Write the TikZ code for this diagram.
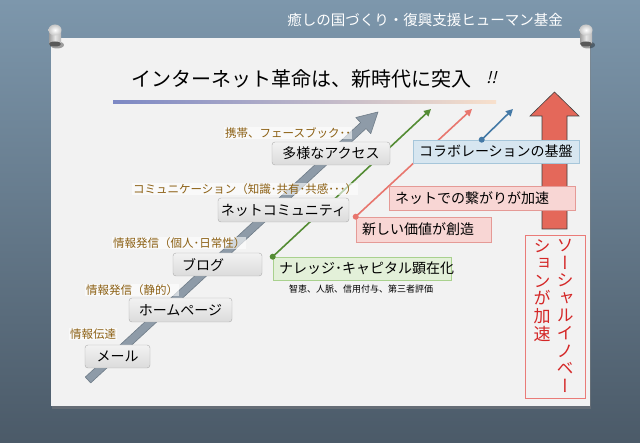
\documentclass[tikz,border=0pt]{standalone}
\usepackage{fontspec}
\setmainfont{Noto Sans CJK JP}
\newfontfamily\vfont[RawFeature=+vert]{Noto Sans CJK JP}
\newfontfamily\slfont[FakeSlant=0.25]{Noto Sans CJK JP}
\usetikzlibrary{calc,arrows.meta,shadows}
\definecolor{bgtop}{HTML}{7D97AC}
\definecolor{bgbot}{HTML}{4B5A68}
\definecolor{paperc}{HTML}{F2F2F2}
\definecolor{lblc}{HTML}{8C6014}
\definecolor{grnc}{HTML}{548C34}
\definecolor{rdc}{HTML}{E8766E}
\definecolor{blc}{HTML}{4479A6}
\definecolor{bigred}{HTML}{E4685A}
\definecolor{vred}{HTML}{D42626}
\definecolor{agray}{HTML}{8E9BA8}
\definecolor{aedge}{HTML}{6F7C88}
\definecolor{gfill}{HTML}{E3F0D9}
\definecolor{gedge}{HTML}{A9D18E}
\definecolor{pfill}{HTML}{F8D6D4}
\definecolor{pedge}{HTML}{E59A96}
\definecolor{bfill}{HTML}{D7E6F0}
\definecolor{bedge}{HTML}{A6C6DA}
\definecolor{lineblue}{HTML}{7C88C4}
\definecolor{linepeach}{HTML}{F8E0CC}
\pgfdeclarelayer{back}
\pgfdeclarelayer{mid}
\pgfsetlayers{back,mid,main}
\tikzset{
  graybox/.style={draw=gray!65, rounded corners=3pt, top color=gray!10, bottom color=gray!28,
    font=\fontsize{14}{16}\selectfont, inner sep=0pt, align=center},
  lbl/.style={text=lblc, font=\fontsize{11.5}{13}\selectfont, anchor=west, inner sep=1pt,
    fill=white, fill opacity=0.6, text opacity=1},
  cbox/.style={rectangle, inner xsep=6pt, inner ysep=0pt, align=left,
    font=\fontsize{14}{16}\selectfont, line width=0.6pt},
  gbox/.style={cbox, draw=gedge, fill=gfill},
  pbox/.style={cbox, draw=pedge, fill=pfill},
  bbox/.style={cbox, draw=bedge, fill=bfill},
  vtext/.style={font=\vfont\fontsize{17}{17.6}\selectfont, text=vred, align=center, inner sep=0pt},
  thinarrow/.style={line width=1.6pt, -{Triangle[length=7pt,width=7pt]}},
}
\newcommand{\drawpin}[1]{%
  \fill[black, opacity=0.35] (#1+2,45) ellipse (7 and 3.5);
  \shade[left color=gray!75, right color=gray!55, middle color=gray!20] (#1-6,31) rectangle (#1+6,44);
  \fill[gray!70!black] (#1,44) ellipse (6 and 2.5);
  \shade[inner color=white, outer color=gray!45] (#1,30) ellipse (6.5 and 5.5);
}
\begin{document}
\begin{tikzpicture}[x=1pt,y=-1pt]
\useasboundingbox (0,0) rectangle (640,443);
% ---------- nodes ----------
\node[text=white, font=\fontsize{14.5}{16}\selectfont] (hdr) at (425,20) {癒しの国づくり・復興支援ヒューマン基金};
\node[font=\fontsize{20}{22}\selectfont] (title) at (301,79) {インターネット革命は、新時代に突入};
\node[font=\slfont\fontsize{16}{18}\selectfont, anchor=west, inner sep=0pt] (excl) at (486,78) {!!};

\node[graybox, minimum width=65, minimum height=23] (mail) at (117.5,356.5) {メール};
\node[graybox, minimum width=103, minimum height=24] (home) at (180.5,310) {ホームページ};
\node[graybox, inner xsep=9pt, text width=71pt, align=left, minimum height=23] (blog) at (217.5,264.5) {ブログ};
\node[graybox, minimum width=131, minimum height=24] (comm) at (283.5,210) {ネットコミュニティ};
\node[graybox, minimum width=118, minimum height=23] (access) at (331,153.5) {多様なアクセス};

\node[lbl] (l1) at (69,334) {情報伝達};
\node[lbl] (l2) at (85,290) {情報発信（静的）};
\node[lbl] (l3) at (112,243) {情報発信（個人･日常性）};
\node[lbl] (l4) at (132,189) {コミュニケーション（知識･共有･共感･･･）};
\node[lbl] (l5) at (224,133) {携帯、フェースブック･･};

\node[gbox, text width=166pt, minimum height=23] (know) at (362,268.5) {ナレッジ･キャピタル顕在化};
\node[font=\fontsize{9}{10}\selectfont] (knsub) at (361,289) {智恵、人脈、信用付与、第三者評価};
\node[pbox, text width=123pt, minimum height=25] (value) at (423.5,229.5) {新しい価値が創造};
\node[pbox, text width=174pt, minimum height=24] (conn) at (482,198) {ネットでの繋がりが加速};
\node[bbox, text width=154pt, minimum height=23] (collab) at (496,151.5) {コラボレーションの基盤};

\node[draw=pedge!80!red, line width=0.6pt, minimum width=60, minimum height=163, inner sep=0pt] (social) at (555,316.5) {};
\node[vtext, anchor=north] (v1) at (565,239) {ソ\\ー\\シ\\ャ\\ル\\イ\\ノ\\ベ\\ー};
\node[vtext, anchor=north] (v2) at (542,239) {シ\\ョ\\ン\\が\\加\\速};

% dots on top
\coordinate (gd) at (know.north west);
\coordinate (rd) at (value.north west);
\coordinate (bd) at ($(collab.north west)+(69,0)$);
\fill[grnc] (gd) circle (3pt);
\fill[rdc] (rd) circle (3pt);
\fill[blc] (bd) circle (3pt);

% ---------- background ----------
\begin{pgfonlayer}{back}
\shade[top color=bgtop, bottom color=bgbot] (0,0) rectangle (640,443);
\fill[paperc, drop shadow={opacity=0.45, shadow xshift=1pt, shadow yshift=-3pt}] (51,38) rectangle (590,406);
\drawpin{55}
\drawpin{586}
\shade[left color=lineblue, right color=linepeach] (113,100.5) rectangle (496,103.5);
\end{pgfonlayer}

% ---------- arrows ----------
\begin{pgfonlayer}{mid}
\coordinate (gs) at (88,380);
\coordinate (ge) at (378,112);
\coordinate (gh) at ($(ge)!20pt!(gs)$);
\filldraw[fill=agray, draw=aedge, line width=0.6pt, line join=round]
  ($(gs)!4pt!90:(ge)$) -- ($(gh)!4pt!90:(ge)$) -- ($(gh)!11pt!90:(ge)$) -- (ge)
  -- ($(gh)!11pt!-90:(ge)$) -- ($(gh)!4pt!-90:(ge)$) -- ($(gs)!4pt!-90:(ge)$) -- cycle;
\filldraw[fill=bigred, draw=black!75, line width=0.6pt]
  (542,229) -- (542,116) -- (530,116) -- (554.5,92) -- (579,116) -- (567,116) -- (567,229) -- cycle;
\coordinate (ga) at (431,109);
\coordinate (ra) at (472,109);
\coordinate (ba) at (513,109);
\draw[thinarrow, grnc] (gd) -- (ga);
\draw[thinarrow, rdc] (rd) -- (ra);
\draw[thinarrow, blc] (bd) -- (ba);
\end{pgfonlayer}
\end{tikzpicture}
\end{document}
